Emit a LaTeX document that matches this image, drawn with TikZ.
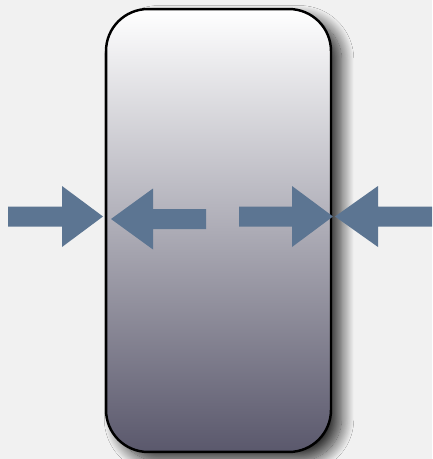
\documentclass[tikz,border=0pt]{standalone}
\usetikzlibrary{shadows.blur}

\definecolor{paper}{RGB}{241,241,241}
\definecolor{cellbottom}{RGB}{90,88,108}
\definecolor{pushblue}{RGB}{92,117,146}

\tikzset{
	cell/.style={draw=black, line width=1.4pt, rounded corners=0.84cm,
		top color=white, bottom color=cellbottom,
		minimum width=4.5cm, minimum height=8.86cm, inner sep=0pt,
		blur shadow={shadow xshift=6pt, shadow yshift=-5pt,
			shadow blur radius=7pt, shadow blur steps=20, shadow opacity=80}},
	push/.style={fill=pushblue, draw=none}
}

% block arrow: tail x, head base x, tip x, centre y
\newcommand{\pusharrow}[4]{%
	\fill[push] (#1,#4-10) -- (#2,#4-10) -- (#2,#4-30.5) -- (#3,#4)
		-- (#2,#4+30.5) -- (#2,#4+10) -- (#1,#4+10) -- cycle;}

\begin{document}
\begin{tikzpicture}[x=0.02cm, y=-0.02cm]
		\fill[paper] (0,0) rectangle (432,459);
		\node[cell] (box) at (218.5,230.5) {};

		\pusharrow{8}{62}{103}{216.5}
		\pusharrow{206}{153}{111}{219}
		\pusharrow{239}{292}{333}{216.5}
		\pusharrow{432}{378}{335}{216.5}
	\end{tikzpicture}
\end{document}
